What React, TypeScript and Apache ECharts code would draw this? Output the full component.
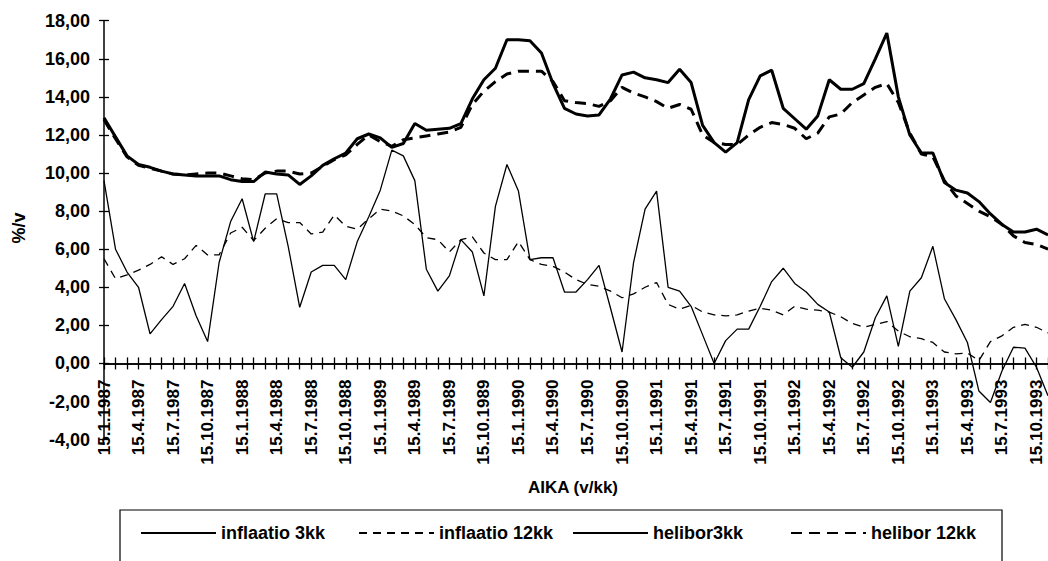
import React, { useEffect, useRef } from "react";
import * as echarts from "echarts";

const categories = [
  "15.1.1987", "15.2.1987", "15.3.1987", "15.4.1987", "15.5.1987", "15.6.1987", "15.7.1987", "15.8.1987", "15.9.1987", "15.10.1987", "15.11.1987", "15.12.1987",
  "15.1.1988", "15.2.1988", "15.3.1988", "15.4.1988", "15.5.1988", "15.6.1988", "15.7.1988", "15.8.1988", "15.9.1988", "15.10.1988", "15.11.1988", "15.12.1988",
  "15.1.1989", "15.2.1989", "15.3.1989", "15.4.1989", "15.5.1989", "15.6.1989", "15.7.1989", "15.8.1989", "15.9.1989", "15.10.1989", "15.11.1989", "15.12.1989",
  "15.1.1990", "15.2.1990", "15.3.1990", "15.4.1990", "15.5.1990", "15.6.1990", "15.7.1990", "15.8.1990", "15.9.1990", "15.10.1990", "15.11.1990", "15.12.1990",
  "15.1.1991", "15.2.1991", "15.3.1991", "15.4.1991", "15.5.1991", "15.6.1991", "15.7.1991", "15.8.1991", "15.9.1991", "15.10.1991", "15.11.1991", "15.12.1991",
  "15.1.1992", "15.2.1992", "15.3.1992", "15.4.1992", "15.5.1992", "15.6.1992", "15.7.1992", "15.8.1992", "15.9.1992", "15.10.1992", "15.11.1992", "15.12.1992",
  "15.1.1993", "15.2.1993", "15.3.1993", "15.4.1993", "15.5.1993", "15.6.1993", "15.7.1993", "15.8.1993", "15.9.1993", "15.10.1993", "15.11.1993",
];

const inflaatio3kk = [
  9.6, 6.0, 4.8, 4.0, 1.55, 2.3, 3.0, 4.2, 2.5, 1.15, 5.3, 7.45,
  8.65, 6.4, 8.9, 8.9, 6.15, 2.95, 4.8, 5.15, 5.15, 4.4, 6.4, 7.7,
  9.1, 11.2, 10.9, 9.6, 4.95, 3.8, 4.6, 6.5, 5.85, 3.55, 8.25, 10.45,
  9.05, 5.45, 5.55, 5.55, 3.75, 3.75, 4.4, 5.15, 2.9, 0.6, 5.3, 8.1,
  9.05, 4.0, 3.8, 3.0, 1.5, 0.0, 1.2, 1.8, 1.8, 3.0, 4.3, 5.0,
  4.2, 3.75, 3.1, 2.7, 0.3, -0.2, 0.6, 2.4, 3.55, 0.9, 3.8, 4.5,
  6.15, 3.4, 2.3, 1.1, -1.45, -2.05, -0.4, 0.85, 0.8, -0.2, -1.7,
];

const inflaatio12kk = [
  5.5, 4.45, 4.65, 4.9, 5.2, 5.6, 5.2, 5.5, 6.2, 5.7, 5.7, 6.85,
  7.15, 6.45, 7.1, 7.6, 7.4, 7.4, 6.8, 6.9, 7.8, 7.2, 7.05, 7.6,
  8.1, 8.0, 7.75, 7.3, 6.6, 6.5, 5.85, 6.5, 6.65, 5.8, 5.45, 5.45,
  6.4, 5.45, 5.2, 5.1, 4.8, 4.4, 4.15, 4.05, 3.8, 3.45, 3.65, 4.0,
  4.25, 3.1, 2.85, 3.05, 2.7, 2.55, 2.5, 2.55, 2.75, 2.9, 2.8, 2.55,
  3.0, 2.85, 2.8, 2.7, 2.45, 2.1, 1.9, 2.05, 2.2, 1.7, 1.4, 1.3,
  1.1, 0.6, 0.5, 0.55, 0.15, 1.15, 1.45, 1.9, 2.05, 1.9, 1.6,
];

const helibor3kk = [
  12.9, 11.9, 10.9, 10.45, 10.3, 10.1, 9.95, 9.9, 9.85, 9.85, 9.85, 9.65,
  9.55, 9.55, 10.05, 9.95, 9.9, 9.4, 9.85, 10.4, 10.75, 11.05, 11.8, 12.05,
  11.85, 11.35, 11.55, 12.6, 12.25, 12.3, 12.35, 12.6, 13.9, 14.9, 15.5, 17.0,
  17.0, 16.95, 16.3, 14.7, 13.4, 13.1, 13.0, 13.05, 13.9, 15.15, 15.3, 15.0,
  14.9, 14.75, 15.45, 14.75, 12.5, 11.6, 11.1, 11.6, 13.85, 15.1, 15.4, 13.4,
  12.85, 12.3, 13.0, 14.9, 14.4, 14.4, 14.7, 16.0, 17.35, 14.0, 12.0, 11.05,
  11.05, 9.5, 9.1, 8.95, 8.5, 7.85, 7.3, 6.9, 6.9, 7.05, 6.75,
];

const helibor12kk = [
  12.8, 11.8, 10.85, 10.4, 10.25, 10.1, 9.95, 9.9, 9.95, 10.0, 10.0, 9.85,
  9.7, 9.65, 10.0, 10.1, 10.1, 9.95, 10.0, 10.35, 10.7, 10.95, 11.5, 12.0,
  11.65, 11.4, 11.75, 11.85, 11.95, 12.05, 12.15, 12.4, 13.6, 14.3, 14.8, 15.2,
  15.35, 15.35, 15.35, 14.8, 13.8, 13.7, 13.65, 13.5, 13.8, 14.5, 14.2, 14.0,
  13.75, 13.4, 13.6, 13.35, 12.0, 11.6, 11.5, 11.5, 12.0, 12.4, 12.65, 12.55,
  12.35, 11.8, 12.1, 12.95, 13.1, 13.7, 14.1, 14.5, 14.7, 13.7, 12.1, 11.0,
  10.85, 9.6, 8.8, 8.4, 8.0, 7.7, 7.3, 6.7, 6.35, 6.25, 6.0,
];

const FONT = "'Liberation Sans', Arial, sans-serif";

export default function App() {
  const ref = useRef<HTMLDivElement>(null);

  useEffect(() => {
    if (!ref.current) return;
    const chart = echarts.init(ref.current, null, { renderer: "svg" });
    const textStyle = { fontFamily: FONT, fontSize: 18, fontWeight: "bold", color: "#000" };
    const legend = (name: string, left: number) => ({
      data: [name],
      left,
      top: 524,
      padding: 0,
      itemWidth: 75,
      itemHeight: 14,
      selectedMode: false,
      itemStyle: { opacity: 0 },
      textStyle,
    });
    const fmt = (v: number) => v.toFixed(2).replace(".", ",");
    chart.setOption({
      animation: false,
      backgroundColor: "#ffffff",
      grid: { left: 104, top: 20.7, width: 946.3, height: 418.9, containLabel: false },
      legend: [
        legend("inflaatio 3kk", 140),
        legend("inflaatio 12kk", 358),
        legend("helibor3kk", 572),
        legend("helibor 12kk", 790),
      ],
      xAxis: [
        {
          type: "category",
          data: categories,
          boundaryGap: false,
          axisLine: { onZero: true, lineStyle: { color: "#000", width: 1.5 } },
          axisTick: { interval: 0, length: 6, lineStyle: { color: "#000", width: 1.3 } },
          axisLabel: {
            interval: 2,
            rotate: 90,
            margin: -60,
            fontFamily: FONT,
            fontSize: 17,
            fontWeight: "bold",
            color: "#000",
          },
          splitLine: { show: false },
        },
        {
          type: "category",
          data: categories,
          boundaryGap: false,
          position: "bottom",
          axisLine: { onZero: true, lineStyle: { color: "#000", width: 1.5 } },
          axisTick: { interval: 0, inside: true, length: 6, lineStyle: { color: "#000", width: 1.3 } },
          axisLabel: { show: false },
          splitLine: { show: false },
        },
      ],
      yAxis: [
        {
          type: "value",
          min: -4,
          max: 18,
          interval: 2,
          position: "left",
          axisLine: { show: true, lineStyle: { color: "#000", width: 1.5 } },
          axisTick: { show: true, length: 5, lineStyle: { color: "#000", width: 1.3 } },
          axisLabel: { formatter: fmt, margin: 14, fontFamily: FONT, fontSize: 18, fontWeight: "bold", color: "#000" },
          splitLine: { show: false },
        },
        {
          type: "value",
          min: -4,
          max: 18,
          interval: 2,
          position: "left",
          axisLine: { show: false },
          axisTick: { show: true, inside: true, length: 5, lineStyle: { color: "#000", width: 1.3 } },
          axisLabel: { show: false },
          splitLine: { show: false },
        },
      ],
      series: [
        {
          name: "inflaatio 3kk",
          type: "line",
          data: inflaatio3kk,
          symbol: "none",
          color: "#000",
          lineStyle: { color: "#000", width: 1.3 },
        },
        {
          name: "inflaatio 12kk",
          type: "line",
          data: inflaatio12kk,
          symbol: "none",
          color: "#000",
          lineStyle: { color: "#000", width: 1.3, type: [8, 6] },
        },
        {
          name: "helibor3kk",
          type: "line",
          data: helibor3kk,
          symbol: "none",
          color: "#000",
          lineStyle: { color: "#000", width: 3 },
        },
        {
          name: "helibor 12kk",
          type: "line",
          data: helibor12kk,
          symbol: "none",
          color: "#000",
          lineStyle: { color: "#000", width: 3, type: [11, 7] },
        },
      ],
      graphic: [
        {
          type: "text",
          x: 573,
          y: 487,
          style: { text: "AIKA (v/kk)", fill: "#000", font: `bold 17px ${FONT}`, align: "center", verticalAlign: "middle" },
        },
        {
          type: "text",
          x: 19,
          y: 228,
          rotation: Math.PI / 2,
          style: { text: "%/v", fill: "#000", font: `bold 18px ${FONT}`, align: "center", verticalAlign: "middle" },
        },
        {
          type: "rect",
          shape: { x: 120, y: 510, width: 882, height: 80 },
          style: { fill: "none", stroke: "#000", lineWidth: 1.2 },
          silent: true,
        },
      ],
    });
    return () => chart.dispose();
  }, []);

  return (
    <div
      ref={ref}
      style={{ position: "fixed", left: 0, top: 0, width: 1048, height: 561, background: "#fff" }}
    />
  );
}
